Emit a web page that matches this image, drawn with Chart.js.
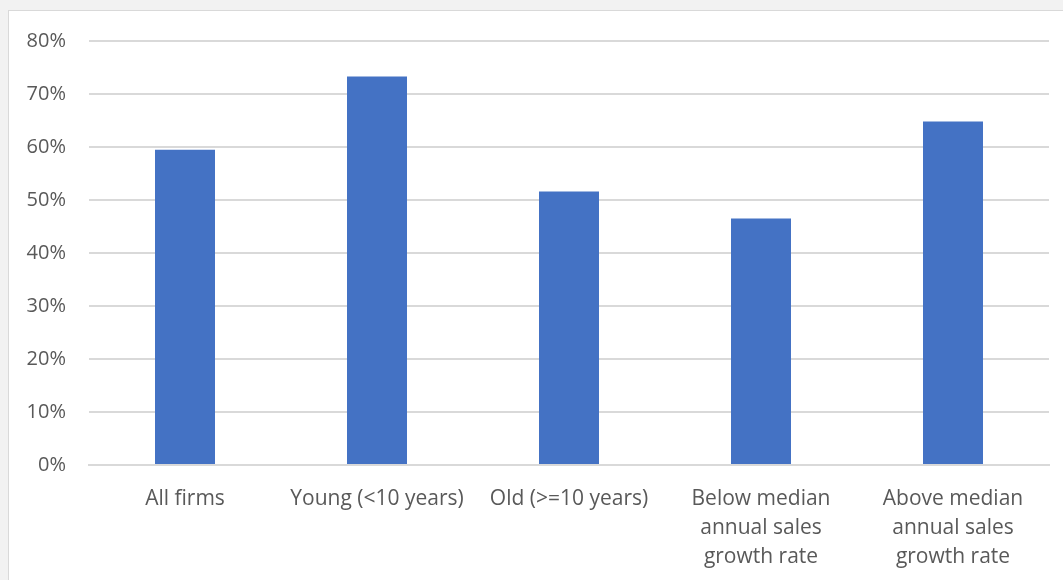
<!DOCTYPE html>
<html>
<head>
<meta charset="utf-8">
<script src="https://cdn.jsdelivr.net/npm/chart.js@4.4.1/dist/chart.umd.min.js"></script>
<style>
    html, body { margin: 0; padding: 0; background: #f2f2f2; overflow: hidden; }
    .frame {
        position: absolute; left: 8px; top: 10px;
        width: 1100px; height: 620px;
        background: #fff; border: 1px solid #d9d9d9;
        overflow: hidden;
    }
    .chart-box { position: absolute; left: 0; top: -5px; width: 1054px; height: 574px; }
</style>
</head>
<body>
<div class="frame">
    <div class="chart-box"><canvas id="barChart"></canvas></div>
</div>
<script>
// Share of firms, by group (percent)
const categories = [
    'All firms',
    'Young (<10 years)',
    'Old (>=10 years)',
    ['Below median', 'annual sales', 'growth rate'],
    ['Above median', 'annual sales', 'growth rate']
];
const shares = [59.5, 73.3, 51.6, 46.5, 64.8];
const yTicks = [0, 10, 20, 30, 40, 50, 60, 70, 80];

const textColor = '#595959';
const gridColor = '#d9d9d9';

document.addEventListener('DOMContentLoaded', function() {
    const ctx = document.getElementById('barChart').getContext('2d');
    new Chart(ctx, {
        type: 'bar',
        data: {
            labels: categories,
            datasets: [{
                data: shares,
                backgroundColor: '#4472c4',
                borderWidth: 0,
                categoryPercentage: 1,
                barPercentage: 0.3125
            }]
        },
        options: {
            responsive: true,
            maintainAspectRatio: false,
            animation: false,
            layout: { padding: { top: 0, right: 14, bottom: 0, left: 0 } },
            plugins: {
                legend: { display: false },
                tooltip: { enabled: false }
            },
            scales: {
                y: {
                    min: 0,
                    max: 80,
                    afterBuildTicks: function(scale) {
                        scale.ticks = yTicks.map(v => ({ value: v }));
                    },
                    afterFit: function(scale) { scale.width = 80; },
                    border: { display: false },
                    grid: { color: gridColor, lineWidth: 2, drawTicks: false },
                    ticks: {
                        color: textColor,
                        padding: 23,
                        font: { family: 'Open Sans', size: 20 },
                        callback: v => v + '%'
                    }
                },
                x: {
                    afterFit: function(scale) { scale.height = 115; },
                    border: { color: gridColor, width: 2 },
                    grid: { display: false },
                    ticks: {
                        color: textColor,
                        padding: 12,
                        maxRotation: 0,
                        autoSkip: false,
                        font: { family: 'Open Sans', size: 21, lineHeight: 1.38 }
                    }
                }
            }
        }
    });
});
</script>
</body>
</html>
